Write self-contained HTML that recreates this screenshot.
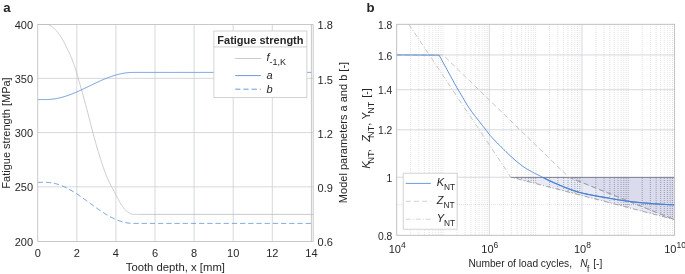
<!DOCTYPE html>
<html><head><meta charset="utf-8"><title>Figure</title>
<style>html,body{margin:0;padding:0;background:#fff;}svg{display:block;will-change:transform;font-family:"Liberation Sans",Arial,Helvetica,sans-serif;}</style>
</head><body>
<svg width="685" height="274" viewBox="0 0 685 274">
<rect x="0" y="0" width="685" height="274" fill="#fff"/>
<line x1="76.80" y1="24.5" x2="76.80" y2="241.5" stroke="#ccced4" stroke-width="0.8"/>
<line x1="115.90" y1="24.5" x2="115.90" y2="241.5" stroke="#ccced4" stroke-width="0.8"/>
<line x1="155.00" y1="24.5" x2="155.00" y2="241.5" stroke="#ccced4" stroke-width="0.8"/>
<line x1="194.10" y1="24.5" x2="194.10" y2="241.5" stroke="#ccced4" stroke-width="0.8"/>
<line x1="233.20" y1="24.5" x2="233.20" y2="241.5" stroke="#ccced4" stroke-width="0.8"/>
<line x1="272.30" y1="24.5" x2="272.30" y2="241.5" stroke="#ccced4" stroke-width="0.8"/>
<line x1="37.7" y1="186.85" x2="313.2" y2="186.85" stroke="#ccced4" stroke-width="0.8"/>
<line x1="37.7" y1="132.60" x2="313.2" y2="132.60" stroke="#ccced4" stroke-width="0.8"/>
<line x1="37.7" y1="78.35" x2="313.2" y2="78.35" stroke="#ccced4" stroke-width="0.8"/>
<path d="M37.70,24.50 L38.04,24.50 L38.38,24.50 L38.73,24.50 L39.07,24.50 L39.41,24.50 L39.75,24.50 L40.09,24.50 L40.44,24.50 L40.78,24.50 L41.12,24.50 L41.46,24.50 L41.81,24.50 L42.15,24.50 L42.49,24.50 L42.83,24.50 L43.17,24.50 L43.52,24.50 L43.86,24.50 L44.20,24.50 L44.54,24.50 L44.88,24.50 L45.23,24.50 L45.57,24.50 L45.91,24.50 L46.25,24.50 L46.60,24.50 L46.94,24.50 L47.28,24.50 L47.62,24.50 L47.96,24.53 L48.31,24.60 L48.65,24.72 L48.99,24.87 L49.33,25.04 L49.67,25.24 L50.02,25.45 L50.36,25.67 L50.70,25.89 L51.04,26.11 L51.39,26.31 L51.73,26.53 L52.07,26.77 L52.41,27.02 L52.75,27.29 L53.10,27.56 L53.44,27.85 L53.78,28.15 L54.12,28.46 L54.46,28.78 L54.81,29.11 L55.15,29.45 L55.49,29.80 L55.83,30.17 L56.18,30.56 L56.52,30.97 L56.86,31.38 L57.20,31.81 L57.54,32.25 L57.89,32.70 L58.23,33.16 L58.57,33.63 L58.91,34.09 L59.25,34.57 L59.60,35.04 L59.94,35.52 L60.28,35.99 L60.62,36.48 L60.97,36.98 L61.31,37.50 L61.65,38.03 L61.99,38.59 L62.33,39.16 L62.68,39.76 L63.02,40.38 L63.36,41.01 L63.70,41.66 L64.04,42.32 L64.39,42.99 L64.73,43.67 L65.07,44.35 L65.41,45.05 L65.76,45.75 L66.10,46.45 L66.44,47.15 L66.78,47.85 L67.12,48.54 L67.47,49.24 L67.81,49.92 L68.15,50.61 L68.49,51.30 L68.83,52.00 L69.18,52.71 L69.52,53.43 L69.86,54.18 L70.20,54.95 L70.55,55.74 L70.89,56.55 L71.23,57.37 L71.57,58.20 L71.91,59.04 L72.26,59.90 L72.60,60.77 L72.94,61.66 L73.28,62.57 L73.62,63.49 L73.97,64.43 L74.31,65.38 L74.65,66.36 L74.99,67.36 L75.34,68.38 L75.68,69.42 L76.02,70.49 L76.36,71.58 L76.70,72.74 L77.05,74.00 L77.39,75.32 L77.73,76.63 L78.07,77.90 L78.41,79.10 L78.76,80.28 L79.10,81.43 L79.44,82.57 L79.78,83.72 L80.13,84.87 L80.47,86.04 L80.81,87.23 L81.15,88.44 L81.49,89.64 L81.84,90.86 L82.18,92.08 L82.52,93.30 L82.86,94.53 L83.20,95.76 L83.55,97.00 L83.89,98.25 L84.23,99.49 L84.57,100.75 L84.92,102.00 L85.26,103.26 L85.60,104.53 L85.94,105.80 L86.28,107.07 L86.63,108.35 L86.97,109.63 L87.31,110.92 L87.65,112.21 L87.99,113.52 L88.34,114.85 L88.68,116.18 L89.02,117.52 L89.36,118.86 L89.71,120.21 L90.05,121.56 L90.39,122.91 L90.73,124.26 L91.07,125.60 L91.42,126.93 L91.76,128.26 L92.10,129.58 L92.44,130.88 L92.78,132.17 L93.13,133.44 L93.47,134.72 L93.81,135.98 L94.15,137.25 L94.50,138.50 L94.84,139.74 L95.18,140.98 L95.52,142.20 L95.86,143.41 L96.21,144.61 L96.55,145.78 L96.89,146.95 L97.23,148.10 L97.57,149.25 L97.92,150.40 L98.26,151.54 L98.60,152.68 L98.94,153.81 L99.29,154.93 L99.63,156.05 L99.97,157.16 L100.31,158.26 L100.65,159.35 L101.00,160.43 L101.34,161.50 L101.68,162.56 L102.02,163.61 L102.36,164.65 L102.71,165.67 L103.05,166.69 L103.39,167.69 L103.73,168.68 L104.08,169.65 L104.42,170.61 L104.76,171.55 L105.10,172.47 L105.44,173.38 L105.79,174.26 L106.13,175.12 L106.47,175.95 L106.81,176.76 L107.15,177.55 L107.50,178.33 L107.84,179.09 L108.18,179.84 L108.52,180.58 L108.87,181.30 L109.21,182.01 L109.55,182.72 L109.89,183.42 L110.23,184.10 L110.58,184.79 L110.92,185.47 L111.26,186.14 L111.60,186.81 L111.94,187.47 L112.29,188.13 L112.63,188.77 L112.97,189.40 L113.31,190.03 L113.66,190.65 L114.00,191.27 L114.34,191.89 L114.68,192.50 L115.02,193.12 L115.37,193.74 L115.71,194.36 L116.05,195.00 L116.39,195.65 L116.73,196.30 L117.08,196.96 L117.42,197.62 L117.76,198.28 L118.10,198.94 L118.45,199.59 L118.79,200.24 L119.13,200.88 L119.47,201.52 L119.81,202.14 L120.16,202.75 L120.50,203.34 L120.84,203.92 L121.18,204.48 L121.52,205.01 L121.87,205.52 L122.21,206.01 L122.55,206.48 L122.89,206.95 L123.24,207.41 L123.58,207.85 L123.92,208.29 L124.26,208.71 L124.60,209.12 L124.95,209.51 L125.29,209.87 L125.63,210.22 L125.97,210.55 L126.31,210.85 L126.66,211.12 L127.00,211.40 L127.34,211.66 L127.68,211.92 L128.03,212.18 L128.37,212.42 L128.71,212.66 L129.05,212.88 L129.39,213.09 L129.74,213.29 L130.08,213.47 L130.42,213.63 L130.76,213.77 L131.10,213.89 L131.45,213.99 L131.79,214.07 L132.13,214.15 L132.47,214.22 L132.82,214.29 L133.16,214.34 L133.50,214.38 L133.84,214.40 L134.18,214.40 L134.53,214.40 L134.87,214.40 L135.21,214.40 L135.55,214.40 L135.89,214.40 L136.24,214.40 L136.58,214.40 L136.92,214.40 L137.26,214.40 L137.61,214.40 L137.95,214.40 L138.29,214.40 L138.63,214.40 L138.97,214.40 L139.32,214.40 L139.66,214.40 L140.00,214.40 L313.20,214.40" fill="none" stroke="#bcbcbc" stroke-width="0.8"/>
<path d="M37.70,99.55 L38.39,99.55 L39.07,99.55 L39.76,99.55 L40.44,99.55 L41.13,99.55 L41.82,99.55 L42.50,99.55 L43.19,99.55 L43.87,99.55 L44.56,99.55 L45.25,99.55 L45.93,99.54 L46.62,99.54 L47.30,99.52 L47.99,99.49 L48.68,99.46 L49.36,99.42 L50.05,99.37 L50.73,99.31 L51.42,99.25 L52.11,99.17 L52.79,99.09 L53.48,99.00 L54.16,98.90 L54.85,98.80 L55.54,98.69 L56.22,98.57 L56.91,98.44 L57.59,98.30 L58.28,98.16 L58.96,98.01 L59.65,97.86 L60.34,97.69 L61.02,97.52 L61.71,97.34 L62.39,97.16 L63.08,96.97 L63.77,96.77 L64.45,96.56 L65.14,96.35 L65.82,96.13 L66.51,95.91 L67.20,95.68 L67.88,95.45 L68.57,95.21 L69.25,94.96 L69.94,94.71 L70.63,94.45 L71.31,94.19 L72.00,93.92 L72.68,93.65 L73.37,93.37 L74.06,93.09 L74.74,92.81 L75.43,92.52 L76.11,92.23 L76.80,91.93 L77.49,91.63 L78.17,91.32 L78.86,91.02 L79.54,90.71 L80.23,90.39 L80.92,90.08 L81.60,89.76 L82.29,89.44 L82.97,89.12 L83.66,88.80 L84.35,88.47 L85.03,88.14 L85.72,87.81 L86.40,87.48 L87.09,87.15 L87.78,86.82 L88.46,86.49 L89.15,86.16 L89.83,85.83 L90.52,85.49 L91.21,85.16 L91.89,84.83 L92.58,84.50 L93.26,84.17 L93.95,83.84 L94.64,83.51 L95.32,83.19 L96.01,82.86 L96.69,82.54 L97.38,82.22 L98.06,81.90 L98.75,81.59 L99.44,81.27 L100.12,80.96 L100.81,80.66 L101.49,80.35 L102.18,80.05 L102.87,79.76 L103.55,79.46 L104.24,79.17 L104.92,78.89 L105.61,78.61 L106.30,78.33 L106.98,78.06 L107.67,77.79 L108.35,77.53 L109.04,77.27 L109.73,77.02 L110.41,76.77 L111.10,76.53 L111.78,76.30 L112.47,76.07 L113.16,75.84 L113.84,75.63 L114.53,75.41 L115.21,75.21 L115.90,75.01 L116.59,74.82 L117.27,74.63 L117.96,74.46 L118.64,74.28 L119.33,74.12 L120.02,73.96 L120.70,73.81 L121.39,73.67 L122.07,73.53 L122.76,73.41 L123.45,73.28 L124.13,73.17 L124.82,73.07 L125.50,72.97 L126.19,72.88 L126.88,72.80 L127.56,72.72 L128.25,72.66 L128.93,72.60 L129.62,72.55 L130.31,72.51 L130.99,72.48 L131.68,72.45 L132.36,72.43 L133.05,72.42 L133.74,72.42 L134.42,72.42 L135.11,72.42 L135.79,72.42 L136.48,72.42 L137.16,72.42 L137.85,72.42 L138.54,72.42 L139.22,72.42 L139.91,72.42 L140.59,72.42 L141.28,72.42 L141.97,72.42 L142.65,72.42 L143.34,72.42 L144.02,72.42 L144.71,72.42 L145.40,72.42 L146.08,72.42 L146.77,72.42 L147.45,72.42 L148.14,72.42 L148.83,72.42 L149.51,72.42 L150.20,72.42 L150.88,72.42 L151.57,72.42 L152.26,72.42 L152.94,72.42 L153.63,72.42 L154.31,72.42 L155.00,72.42 L155.69,72.42 L156.37,72.42 L157.06,72.42 L157.74,72.42 L158.43,72.42 L159.12,72.42 L159.80,72.42 L160.49,72.42 L161.17,72.42 L161.86,72.42 L162.55,72.42 L163.23,72.42 L163.92,72.42 L164.60,72.42 L165.29,72.42 L165.98,72.42 L166.66,72.42 L167.35,72.42 L168.03,72.42 L168.72,72.42 L169.41,72.42 L170.09,72.42 L170.78,72.42 L171.46,72.42 L172.15,72.42 L172.84,72.42 L173.52,72.42 L174.21,72.42 L174.89,72.42 L175.58,72.42 L176.26,72.42 L176.95,72.42 L177.64,72.42 L178.32,72.42 L179.01,72.42 L179.69,72.42 L180.38,72.42 L181.07,72.42 L181.75,72.42 L182.44,72.42 L183.12,72.42 L183.81,72.42 L184.50,72.42 L185.18,72.42 L185.87,72.42 L186.55,72.42 L187.24,72.42 L187.93,72.42 L188.61,72.42 L189.30,72.42 L189.98,72.42 L190.67,72.42 L191.36,72.42 L192.04,72.42 L192.73,72.42 L193.41,72.42 L194.10,72.42 L194.79,72.42 L195.47,72.42 L196.16,72.42 L196.84,72.42 L197.53,72.42 L198.22,72.42 L198.90,72.42 L199.59,72.42 L200.27,72.42 L200.96,72.42 L201.65,72.42 L202.33,72.42 L203.02,72.42 L203.70,72.42 L204.39,72.42 L205.08,72.42 L205.76,72.42 L206.45,72.42 L207.13,72.42 L207.82,72.42 L208.51,72.42 L209.19,72.42 L209.88,72.42 L210.56,72.42 L211.25,72.42 L211.94,72.42 L212.62,72.42 L213.31,72.42 L213.99,72.42 L214.68,72.42 L215.36,72.42 L216.05,72.42 L216.74,72.42 L217.42,72.42 L218.11,72.42 L218.79,72.42 L219.48,72.42 L220.17,72.42 L220.85,72.42 L221.54,72.42 L222.22,72.42 L222.91,72.42 L223.60,72.42 L224.28,72.42 L224.97,72.42 L225.65,72.42 L226.34,72.42 L227.03,72.42 L227.71,72.42 L228.40,72.42 L229.08,72.42 L229.77,72.42 L230.46,72.42 L231.14,72.42 L231.83,72.42 L232.51,72.42 L233.20,72.42 L233.89,72.42 L234.57,72.42 L235.26,72.42 L235.94,72.42 L236.63,72.42 L237.32,72.42 L238.00,72.42 L238.69,72.42 L239.37,72.42 L240.06,72.42 L240.75,72.42 L241.43,72.42 L242.12,72.42 L242.80,72.42 L243.49,72.42 L244.18,72.42 L244.86,72.42 L245.55,72.42 L246.23,72.42 L246.92,72.42 L247.61,72.42 L248.29,72.42 L248.98,72.42 L249.66,72.42 L250.35,72.42 L251.04,72.42 L251.72,72.42 L252.41,72.42 L253.09,72.42 L253.78,72.42 L254.46,72.42 L255.15,72.42 L255.84,72.42 L256.52,72.42 L257.21,72.42 L257.89,72.42 L258.58,72.42 L259.27,72.42 L259.95,72.42 L260.64,72.42 L261.32,72.42 L262.01,72.42 L262.70,72.42 L263.38,72.42 L264.07,72.42 L264.75,72.42 L265.44,72.42 L266.13,72.42 L266.81,72.42 L267.50,72.42 L268.18,72.42 L268.87,72.42 L269.56,72.42 L270.24,72.42 L270.93,72.42 L271.61,72.42 L272.30,72.42 L272.99,72.42 L273.67,72.42 L274.36,72.42 L275.04,72.42 L275.73,72.42 L276.42,72.42 L277.10,72.42 L277.79,72.42 L278.47,72.42 L279.16,72.42 L279.85,72.42 L280.53,72.42 L281.22,72.42 L281.90,72.42 L282.59,72.42 L283.28,72.42 L283.96,72.42 L284.65,72.42 L285.33,72.42 L286.02,72.42 L286.71,72.42 L287.39,72.42 L288.08,72.42 L288.76,72.42 L289.45,72.42 L290.14,72.42 L290.82,72.42 L291.51,72.42 L292.19,72.42 L292.88,72.42 L293.56,72.42 L294.25,72.42 L294.94,72.42 L295.62,72.42 L296.31,72.42 L296.99,72.42 L297.68,72.42 L298.37,72.42 L299.05,72.42 L299.74,72.42 L300.42,72.42 L301.11,72.42 L301.80,72.42 L302.48,72.42 L303.17,72.42 L303.85,72.42 L304.54,72.42 L305.23,72.42 L305.91,72.42 L306.60,72.42 L307.28,72.42 L307.97,72.42 L308.66,72.42 L309.34,72.42 L310.03,72.42 L310.71,72.42 L311.40,72.42" fill="none" stroke="#5b8fd6" stroke-width="0.9"/>
<path d="M37.70,182.37 L38.39,182.37 L39.07,182.37 L39.76,182.37 L40.44,182.37 L41.13,182.37 L41.82,182.37 L42.50,182.37 L43.19,182.37 L43.87,182.37 L44.56,182.37 L45.25,182.37 L45.93,182.37 L46.62,182.38 L47.30,182.41 L47.99,182.45 L48.68,182.50 L49.36,182.56 L50.05,182.64 L50.73,182.72 L51.42,182.82 L52.11,182.93 L52.79,183.06 L53.48,183.19 L54.16,183.34 L54.85,183.50 L55.54,183.67 L56.22,183.85 L56.91,184.04 L57.59,184.25 L58.28,184.46 L58.96,184.69 L59.65,184.93 L60.34,185.17 L61.02,185.43 L61.71,185.70 L62.39,185.98 L63.08,186.27 L63.77,186.57 L64.45,186.88 L65.14,187.20 L65.82,187.53 L66.51,187.87 L67.20,188.22 L67.88,188.57 L68.57,188.94 L69.25,189.31 L69.94,189.69 L70.63,190.08 L71.31,190.47 L72.00,190.88 L72.68,191.29 L73.37,191.71 L74.06,192.13 L74.74,192.56 L75.43,193.00 L76.11,193.45 L76.80,193.89 L77.49,194.35 L78.17,194.81 L78.86,195.27 L79.54,195.74 L80.23,196.22 L80.92,196.69 L81.60,197.17 L82.29,197.66 L82.97,198.15 L83.66,198.64 L84.35,199.13 L85.03,199.63 L85.72,200.12 L86.40,200.62 L87.09,201.12 L87.78,201.62 L88.46,202.13 L89.15,202.63 L89.83,203.13 L90.52,203.63 L91.21,204.14 L91.89,204.64 L92.58,205.14 L93.26,205.64 L93.95,206.13 L94.64,206.63 L95.32,207.12 L96.01,207.61 L96.69,208.10 L97.38,208.59 L98.06,209.07 L98.75,209.54 L99.44,210.02 L100.12,210.49 L100.81,210.95 L101.49,211.41 L102.18,211.87 L102.87,212.32 L103.55,212.76 L104.24,213.20 L104.92,213.63 L105.61,214.05 L106.30,214.47 L106.98,214.88 L107.67,215.29 L108.35,215.69 L109.04,216.08 L109.73,216.46 L110.41,216.83 L111.10,217.19 L111.78,217.55 L112.47,217.90 L113.16,218.24 L113.84,218.57 L114.53,218.89 L115.21,219.20 L115.90,219.50 L116.59,219.79 L117.27,220.07 L117.96,220.34 L118.64,220.60 L119.33,220.85 L120.02,221.08 L120.70,221.31 L121.39,221.53 L122.07,221.73 L122.76,221.93 L123.45,222.11 L124.13,222.28 L124.82,222.44 L125.50,222.59 L126.19,222.72 L126.88,222.85 L127.56,222.96 L128.25,223.06 L128.93,223.14 L129.62,223.22 L130.31,223.28 L130.99,223.33 L131.68,223.37 L132.36,223.40 L133.05,223.41 L133.74,223.42 L134.42,223.42 L135.11,223.42 L135.79,223.42 L136.48,223.42 L137.16,223.42 L137.85,223.42 L138.54,223.42 L139.22,223.42 L139.91,223.42 L140.59,223.42 L141.28,223.42 L141.97,223.42 L142.65,223.42 L143.34,223.42 L144.02,223.42 L144.71,223.42 L145.40,223.42 L146.08,223.42 L146.77,223.42 L147.45,223.42 L148.14,223.42 L148.83,223.42 L149.51,223.42 L150.20,223.42 L150.88,223.42 L151.57,223.42 L152.26,223.42 L152.94,223.42 L153.63,223.42 L154.31,223.42 L155.00,223.42 L155.69,223.42 L156.37,223.42 L157.06,223.42 L157.74,223.42 L158.43,223.42 L159.12,223.42 L159.80,223.42 L160.49,223.42 L161.17,223.42 L161.86,223.42 L162.55,223.42 L163.23,223.42 L163.92,223.42 L164.60,223.42 L165.29,223.42 L165.98,223.42 L166.66,223.42 L167.35,223.42 L168.03,223.42 L168.72,223.42 L169.41,223.42 L170.09,223.42 L170.78,223.42 L171.46,223.42 L172.15,223.42 L172.84,223.42 L173.52,223.42 L174.21,223.42 L174.89,223.42 L175.58,223.42 L176.26,223.42 L176.95,223.42 L177.64,223.42 L178.32,223.42 L179.01,223.42 L179.69,223.42 L180.38,223.42 L181.07,223.42 L181.75,223.42 L182.44,223.42 L183.12,223.42 L183.81,223.42 L184.50,223.42 L185.18,223.42 L185.87,223.42 L186.55,223.42 L187.24,223.42 L187.93,223.42 L188.61,223.42 L189.30,223.42 L189.98,223.42 L190.67,223.42 L191.36,223.42 L192.04,223.42 L192.73,223.42 L193.41,223.42 L194.10,223.42 L194.79,223.42 L195.47,223.42 L196.16,223.42 L196.84,223.42 L197.53,223.42 L198.22,223.42 L198.90,223.42 L199.59,223.42 L200.27,223.42 L200.96,223.42 L201.65,223.42 L202.33,223.42 L203.02,223.42 L203.70,223.42 L204.39,223.42 L205.08,223.42 L205.76,223.42 L206.45,223.42 L207.13,223.42 L207.82,223.42 L208.51,223.42 L209.19,223.42 L209.88,223.42 L210.56,223.42 L211.25,223.42 L211.94,223.42 L212.62,223.42 L213.31,223.42 L213.99,223.42 L214.68,223.42 L215.36,223.42 L216.05,223.42 L216.74,223.42 L217.42,223.42 L218.11,223.42 L218.79,223.42 L219.48,223.42 L220.17,223.42 L220.85,223.42 L221.54,223.42 L222.22,223.42 L222.91,223.42 L223.60,223.42 L224.28,223.42 L224.97,223.42 L225.65,223.42 L226.34,223.42 L227.03,223.42 L227.71,223.42 L228.40,223.42 L229.08,223.42 L229.77,223.42 L230.46,223.42 L231.14,223.42 L231.83,223.42 L232.51,223.42 L233.20,223.42 L233.89,223.42 L234.57,223.42 L235.26,223.42 L235.94,223.42 L236.63,223.42 L237.32,223.42 L238.00,223.42 L238.69,223.42 L239.37,223.42 L240.06,223.42 L240.75,223.42 L241.43,223.42 L242.12,223.42 L242.80,223.42 L243.49,223.42 L244.18,223.42 L244.86,223.42 L245.55,223.42 L246.23,223.42 L246.92,223.42 L247.61,223.42 L248.29,223.42 L248.98,223.42 L249.66,223.42 L250.35,223.42 L251.04,223.42 L251.72,223.42 L252.41,223.42 L253.09,223.42 L253.78,223.42 L254.46,223.42 L255.15,223.42 L255.84,223.42 L256.52,223.42 L257.21,223.42 L257.89,223.42 L258.58,223.42 L259.27,223.42 L259.95,223.42 L260.64,223.42 L261.32,223.42 L262.01,223.42 L262.70,223.42 L263.38,223.42 L264.07,223.42 L264.75,223.42 L265.44,223.42 L266.13,223.42 L266.81,223.42 L267.50,223.42 L268.18,223.42 L268.87,223.42 L269.56,223.42 L270.24,223.42 L270.93,223.42 L271.61,223.42 L272.30,223.42 L272.99,223.42 L273.67,223.42 L274.36,223.42 L275.04,223.42 L275.73,223.42 L276.42,223.42 L277.10,223.42 L277.79,223.42 L278.47,223.42 L279.16,223.42 L279.85,223.42 L280.53,223.42 L281.22,223.42 L281.90,223.42 L282.59,223.42 L283.28,223.42 L283.96,223.42 L284.65,223.42 L285.33,223.42 L286.02,223.42 L286.71,223.42 L287.39,223.42 L288.08,223.42 L288.76,223.42 L289.45,223.42 L290.14,223.42 L290.82,223.42 L291.51,223.42 L292.19,223.42 L292.88,223.42 L293.56,223.42 L294.25,223.42 L294.94,223.42 L295.62,223.42 L296.31,223.42 L296.99,223.42 L297.68,223.42 L298.37,223.42 L299.05,223.42 L299.74,223.42 L300.42,223.42 L301.11,223.42 L301.80,223.42 L302.48,223.42 L303.17,223.42 L303.85,223.42 L304.54,223.42 L305.23,223.42 L305.91,223.42 L306.60,223.42 L307.28,223.42 L307.97,223.42 L308.66,223.42 L309.34,223.42 L310.03,223.42 L310.71,223.42 L311.40,223.42" fill="none" stroke="#5b8fd6" stroke-width="0.9" stroke-dasharray="5.2,3.0"/>
<path d="M37.7,241.5 L37.7,24.5 L313.2,24.5 L313.2,241.5 L37.7,241.5" fill="none" stroke="#bababa" stroke-width="0.8"/>
<line x1="311.4" y1="24.5" x2="311.4" y2="241.5" stroke="#bababa" stroke-width="0.8"/>
<text x="33.00" y="246.00" font-size="11" text-anchor="end" fill="#262626" >200</text>
<text x="33.00" y="191.30" font-size="11" text-anchor="end" fill="#262626" >250</text>
<text x="33.00" y="137.05" font-size="11" text-anchor="end" fill="#262626" >300</text>
<text x="33.00" y="82.80" font-size="11" text-anchor="end" fill="#262626" >350</text>
<text x="33.00" y="29.00" font-size="11" text-anchor="end" fill="#262626" >400</text>
<text x="37.70" y="257.20" font-size="11" text-anchor="middle" fill="#262626" >0</text>
<text x="76.80" y="257.20" font-size="11" text-anchor="middle" fill="#262626" >2</text>
<text x="115.90" y="257.20" font-size="11" text-anchor="middle" fill="#262626" >4</text>
<text x="155.00" y="257.20" font-size="11" text-anchor="middle" fill="#262626" >6</text>
<text x="194.10" y="257.20" font-size="11" text-anchor="middle" fill="#262626" >8</text>
<text x="233.20" y="257.20" font-size="11" text-anchor="middle" fill="#262626" >10</text>
<text x="272.30" y="257.20" font-size="11" text-anchor="middle" fill="#262626" >12</text>
<text x="311.40" y="257.20" font-size="11" text-anchor="middle" fill="#262626" >14</text>
<text x="317.60" y="246.40" font-size="11" text-anchor="start" fill="#262626" >0.6</text>
<text x="317.60" y="192.15" font-size="11" text-anchor="start" fill="#262626" >0.9</text>
<text x="317.60" y="137.90" font-size="11" text-anchor="start" fill="#262626" >1.2</text>
<text x="317.60" y="83.65" font-size="11" text-anchor="start" fill="#262626" >1.5</text>
<text x="317.60" y="29.40" font-size="11" text-anchor="start" fill="#262626" >1.8</text>
<text x="175.35" y="270.90" font-size="11.3" text-anchor="middle" fill="#262626" >Tooth depth, x [mm]</text>
<text transform="translate(9.6,133.0) rotate(-90)" font-size="11" text-anchor="middle" fill="#262626">Fatigue strength [MPa]</text>
<text transform="translate(346.5,132.5) rotate(-90)" font-size="11" text-anchor="middle" fill="#262626">Model parameters a and b [-]</text>
<text x="3.30" y="12.30" font-size="13.2" text-anchor="start" fill="#262626" font-weight="bold">a</text>
<text x="366.60" y="12.30" font-size="13.2" text-anchor="start" fill="#262626" font-weight="bold">b</text>
<rect x="213.9" y="31" width="93" height="66.6" fill="#fff" stroke="#c8c8c8" stroke-width="0.8"/>
<line x1="213.9" y1="46.9" x2="306.9" y2="46.9" stroke="#c8c8c8" stroke-width="0.8"/>
<text x="260.40" y="43.70" font-size="11" text-anchor="middle" fill="#262626" font-weight="bold">Fatigue strength</text>
<line x1="235.20000000000002" y1="58.5" x2="260.9" y2="58.5" stroke="#bcbcbc" stroke-width="0.8"/>
<line x1="235.20000000000002" y1="75.6" x2="260.9" y2="75.6" stroke="#5b8fd6" stroke-width="0.9"/>
<line x1="235.20000000000002" y1="89.2" x2="260.9" y2="89.2" stroke="#5b8fd6" stroke-width="0.9" stroke-dasharray="5.2,3.0"/>
<text x="266.4" y="61" font-size="11" fill="#262626"><tspan font-style="italic">f</tspan><tspan dy="4.2" font-size="9">-1,K</tspan></text>
<text x="266.40" y="79.40" font-size="11" text-anchor="start" fill="#262626" font-style="italic">a</text>
<text x="266.40" y="93.40" font-size="11" text-anchor="start" fill="#262626" font-style="italic">b</text>
<path d="M510.9,177.24 L674.6,177.24 L674.6,219.70 Z" fill="#e8eaf5"/>
<path d="M568.8,177.24 L674.6,177.24 L674.6,219.70 Z" fill="#dadcee"/>
<clipPath id="cpf"><path d="M510.9,177.24 L674.6,177.24 L674.6,219.70 Z"/></clipPath>
<path d="M410.64,24V235.3 M418.80,24V235.3 M424.59,24V235.3 M429.07,24V235.3 M432.74,24V235.3 M435.84,24V235.3 M438.53,24V235.3 M440.90,24V235.3 M443.02,24V235.3 M456.96,24V235.3 M465.12,24V235.3 M470.90,24V235.3 M475.39,24V235.3 M479.06,24V235.3 M482.16,24V235.3 M484.84,24V235.3 M487.21,24V235.3 M503.28,24V235.3 M511.43,24V235.3 M517.22,24V235.3 M521.71,24V235.3 M525.37,24V235.3 M528.48,24V235.3 M531.16,24V235.3 M533.53,24V235.3 M535.65,24V235.3 M549.59,24V235.3 M557.75,24V235.3 M563.54,24V235.3 M568.02,24V235.3 M571.69,24V235.3 M574.79,24V235.3 M577.48,24V235.3 M579.85,24V235.3 M595.91,24V235.3 M604.07,24V235.3 M609.85,24V235.3 M614.34,24V235.3 M618.01,24V235.3 M621.11,24V235.3 M623.79,24V235.3 M626.16,24V235.3 M628.28,24V235.3 M642.23,24V235.3 M650.38,24V235.3 M656.17,24V235.3 M660.66,24V235.3 M664.32,24V235.3 M667.43,24V235.3 M670.11,24V235.3 M672.48,24V235.3" fill="none" stroke="#262626" stroke-opacity="0.17" stroke-width="0.75" stroke-dasharray="1,1"/>
<path d="M397,204.65H674.6" fill="none" stroke="#262626" stroke-opacity="0.17" stroke-width="0.75" stroke-dasharray="1,1"/>
<g clip-path="url(#cpf)"><path d="M410.64,24V235.3 M418.80,24V235.3 M424.59,24V235.3 M429.07,24V235.3 M432.74,24V235.3 M435.84,24V235.3 M438.53,24V235.3 M440.90,24V235.3 M443.02,24V235.3 M456.96,24V235.3 M465.12,24V235.3 M470.90,24V235.3 M475.39,24V235.3 M479.06,24V235.3 M482.16,24V235.3 M484.84,24V235.3 M487.21,24V235.3 M503.28,24V235.3 M511.43,24V235.3 M517.22,24V235.3 M521.71,24V235.3 M525.37,24V235.3 M528.48,24V235.3 M531.16,24V235.3 M533.53,24V235.3 M535.65,24V235.3 M549.59,24V235.3 M557.75,24V235.3 M563.54,24V235.3 M568.02,24V235.3 M571.69,24V235.3 M574.79,24V235.3 M577.48,24V235.3 M579.85,24V235.3 M595.91,24V235.3 M604.07,24V235.3 M609.85,24V235.3 M614.34,24V235.3 M618.01,24V235.3 M621.11,24V235.3 M623.79,24V235.3 M626.16,24V235.3 M628.28,24V235.3 M642.23,24V235.3 M650.38,24V235.3 M656.17,24V235.3 M660.66,24V235.3 M664.32,24V235.3 M667.43,24V235.3 M670.11,24V235.3 M672.48,24V235.3" fill="none" stroke="#2a2a50" stroke-opacity="0.3" stroke-width="0.85" stroke-dasharray="1,1"/><path d="M397,204.65H674.6" fill="none" stroke="#2a2a50" stroke-opacity="0.3" stroke-width="0.8" stroke-dasharray="1,1"/></g>
<line x1="489.33" y1="24.3" x2="489.33" y2="235.3" stroke="#ccced4" stroke-width="0.8"/>
<line x1="581.97" y1="24.3" x2="581.97" y2="235.3" stroke="#ccced4" stroke-width="0.8"/>
<line x1="396.7" y1="177.24" x2="674.6" y2="177.24" stroke="#ccced4" stroke-width="0.8"/>
<line x1="396.7" y1="129.80" x2="674.6" y2="129.80" stroke="#ccced4" stroke-width="0.8"/>
<line x1="396.7" y1="89.69" x2="674.6" y2="89.69" stroke="#ccced4" stroke-width="0.8"/>
<line x1="396.7" y1="54.95" x2="674.6" y2="54.95" stroke="#ccced4" stroke-width="0.8"/>
<line x1="510.9" y1="177.45" x2="674.6" y2="177.45" stroke="#7c7c8c" stroke-width="0.9"/>
<path d="M396.7,54.95 L443.02,54.95 L568.8,177.24 L674.6,219.70" fill="none" stroke="#b8b8b8" stroke-width="0.8" stroke-dasharray="5.2,3.0"/>
<path d="M408.8,24.3 L510.9,177.24 L674.6,219.70" fill="none" stroke="#b8b8b8" stroke-width="0.8" stroke-dasharray="5,2,1,2"/>
<g clip-path="url(#cpf)"><path d="M396.7,54.95 L443.02,54.95 L568.8,177.24 L674.6,219.70" fill="none" stroke="#90909c" stroke-width="0.8" stroke-dasharray="5.2,3.0"/><path d="M408.8,24.3 L510.9,177.24 L674.6,219.70" fill="none" stroke="#9a9aa6" stroke-width="1.0" stroke-dasharray="5,2,1,2"/></g>
<path d="M396.7,54.95 L439.00,55.10 L439.99,56.86 L440.97,58.63 L441.96,60.41 L442.94,62.20 L443.93,63.99 L444.91,65.79 L445.90,67.60 L446.89,69.41 L447.87,71.23 L448.86,73.07 L449.84,74.90 L450.83,76.70 L451.82,78.49 L452.80,80.27 L453.79,82.05 L454.77,83.81 L455.76,85.56 L456.74,87.30 L457.73,89.03 L458.72,90.74 L459.70,92.43 L460.69,94.10 L461.67,95.76 L462.66,97.42 L463.64,99.07 L464.63,100.73 L465.62,102.42 L466.60,104.09 L467.59,105.67 L468.57,107.16 L469.56,108.60 L470.54,110.01 L471.53,111.38 L472.52,112.73 L473.50,114.05 L474.49,115.35 L475.47,116.63 L476.46,117.90 L477.45,119.15 L478.43,120.40 L479.42,121.64 L480.40,122.88 L481.39,124.12 L482.37,125.36 L483.36,126.62 L484.35,127.88 L485.33,129.16 L486.32,130.46 L487.30,131.79 L488.29,133.13 L489.27,134.39 L490.26,135.56 L491.25,136.69 L492.23,137.79 L493.22,138.87 L494.20,139.92 L495.19,140.95 L496.17,141.97 L497.16,142.96 L498.15,143.95 L499.13,144.92 L500.12,145.89 L501.10,146.86 L502.09,147.82 L503.08,148.78 L504.06,149.75 L505.05,150.72 L506.03,151.69 L507.02,152.65 L508.00,153.61 L508.99,154.56 L509.98,155.50 L510.96,156.42 L511.95,157.34 L512.93,158.24 L513.92,159.12 L514.90,159.98 L515.89,160.82 L516.88,161.65 L517.86,162.47 L518.85,163.27 L519.83,164.06 L520.82,164.83 L521.81,165.58 L522.79,166.30 L523.78,166.99 L524.76,167.64 L525.75,168.27 L526.73,168.88 L527.72,169.47 L528.71,170.04 L529.69,170.61 L530.68,171.15 L531.66,171.69 L532.65,172.22 L533.63,172.74 L534.62,173.25 L535.61,173.75 L536.59,174.25 L537.58,174.74 L538.56,175.24 L539.55,175.73 L540.53,176.22 L541.52,176.71 L542.51,177.20 L543.49,177.70 L544.48,178.20 L545.46,178.69 L546.45,179.19 L547.44,179.68 L548.42,180.16 L549.41,180.64 L550.39,181.11 L551.38,181.58 L552.36,182.04 L553.35,182.48 L554.34,182.91 L555.32,183.34 L556.31,183.76 L557.29,184.18 L558.28,184.59 L559.26,185.01 L560.25,185.43 L561.24,185.84 L562.22,186.25 L563.21,186.65 L564.19,187.06 L565.18,187.45 L566.16,187.85 L567.15,188.23 L568.14,188.61 L569.12,188.99 L570.11,189.35 L571.09,189.71 L572.08,190.06 L573.07,190.40 L574.05,190.74 L575.04,191.06 L576.02,191.37 L577.01,191.67 L577.99,191.95 L578.98,192.23 L579.97,192.49 L580.95,192.74 L581.94,192.99 L582.92,193.23 L583.91,193.46 L584.89,193.69 L585.88,193.91 L586.87,194.13 L587.85,194.34 L588.84,194.54 L589.82,194.75 L590.81,194.94 L591.79,195.14 L592.78,195.33 L593.77,195.52 L594.75,195.70 L595.74,195.88 L596.72,196.06 L597.71,196.24 L598.70,196.41 L599.68,196.59 L600.67,196.76 L601.65,196.93 L602.64,197.10 L603.62,197.27 L604.61,197.44 L605.60,197.60 L606.58,197.77 L607.57,197.94 L608.55,198.11 L609.54,198.28 L610.52,198.46 L611.51,198.63 L612.50,198.80 L613.48,198.97 L614.47,199.14 L615.45,199.31 L616.44,199.48 L617.43,199.64 L618.41,199.80 L619.40,199.96 L620.38,200.12 L621.37,200.27 L622.35,200.42 L623.34,200.56 L624.33,200.71 L625.31,200.84 L626.30,200.98 L627.28,201.11 L628.27,201.25 L629.25,201.38 L630.24,201.51 L631.23,201.64 L632.21,201.76 L633.20,201.88 L634.18,202.00 L635.17,202.11 L636.15,202.22 L637.14,202.33 L638.13,202.43 L639.11,202.52 L640.10,202.61 L641.08,202.69 L642.07,202.78 L643.06,202.86 L644.04,202.95 L645.03,203.03 L646.01,203.11 L647.00,203.19 L647.98,203.27 L648.97,203.35 L649.96,203.43 L650.94,203.51 L651.93,203.58 L652.91,203.66 L653.90,203.73 L654.88,203.80 L655.87,203.87 L656.86,203.94 L657.84,204.01 L658.83,204.07 L659.81,204.13 L660.80,204.20 L661.78,204.25 L662.77,204.31 L663.76,204.37 L664.74,204.42 L665.73,204.47 L666.71,204.52 L667.70,204.56 L668.69,204.60 L669.67,204.64 L670.66,204.68 L671.64,204.71 L672.63,204.75 L673.61,204.77 L674.60,204.80" fill="none" stroke="#5b8fd6" stroke-width="1"/>
<g clip-path="url(#cpf)"><path d="M439.00,55.10 L439.99,56.86 L440.97,58.63 L441.96,60.41 L442.94,62.20 L443.93,63.99 L444.91,65.79 L445.90,67.60 L446.89,69.41 L447.87,71.23 L448.86,73.07 L449.84,74.90 L450.83,76.70 L451.82,78.49 L452.80,80.27 L453.79,82.05 L454.77,83.81 L455.76,85.56 L456.74,87.30 L457.73,89.03 L458.72,90.74 L459.70,92.43 L460.69,94.10 L461.67,95.76 L462.66,97.42 L463.64,99.07 L464.63,100.73 L465.62,102.42 L466.60,104.09 L467.59,105.67 L468.57,107.16 L469.56,108.60 L470.54,110.01 L471.53,111.38 L472.52,112.73 L473.50,114.05 L474.49,115.35 L475.47,116.63 L476.46,117.90 L477.45,119.15 L478.43,120.40 L479.42,121.64 L480.40,122.88 L481.39,124.12 L482.37,125.36 L483.36,126.62 L484.35,127.88 L485.33,129.16 L486.32,130.46 L487.30,131.79 L488.29,133.13 L489.27,134.39 L490.26,135.56 L491.25,136.69 L492.23,137.79 L493.22,138.87 L494.20,139.92 L495.19,140.95 L496.17,141.97 L497.16,142.96 L498.15,143.95 L499.13,144.92 L500.12,145.89 L501.10,146.86 L502.09,147.82 L503.08,148.78 L504.06,149.75 L505.05,150.72 L506.03,151.69 L507.02,152.65 L508.00,153.61 L508.99,154.56 L509.98,155.50 L510.96,156.42 L511.95,157.34 L512.93,158.24 L513.92,159.12 L514.90,159.98 L515.89,160.82 L516.88,161.65 L517.86,162.47 L518.85,163.27 L519.83,164.06 L520.82,164.83 L521.81,165.58 L522.79,166.30 L523.78,166.99 L524.76,167.64 L525.75,168.27 L526.73,168.88 L527.72,169.47 L528.71,170.04 L529.69,170.61 L530.68,171.15 L531.66,171.69 L532.65,172.22 L533.63,172.74 L534.62,173.25 L535.61,173.75 L536.59,174.25 L537.58,174.74 L538.56,175.24 L539.55,175.73 L540.53,176.22 L541.52,176.71 L542.51,177.20 L543.49,177.70 L544.48,178.20 L545.46,178.69 L546.45,179.19 L547.44,179.68 L548.42,180.16 L549.41,180.64 L550.39,181.11 L551.38,181.58 L552.36,182.04 L553.35,182.48 L554.34,182.91 L555.32,183.34 L556.31,183.76 L557.29,184.18 L558.28,184.59 L559.26,185.01 L560.25,185.43 L561.24,185.84 L562.22,186.25 L563.21,186.65 L564.19,187.06 L565.18,187.45 L566.16,187.85 L567.15,188.23 L568.14,188.61 L569.12,188.99 L570.11,189.35 L571.09,189.71 L572.08,190.06 L573.07,190.40 L574.05,190.74 L575.04,191.06 L576.02,191.37 L577.01,191.67 L577.99,191.95 L578.98,192.23 L579.97,192.49 L580.95,192.74 L581.94,192.99 L582.92,193.23 L583.91,193.46 L584.89,193.69 L585.88,193.91 L586.87,194.13 L587.85,194.34 L588.84,194.54 L589.82,194.75 L590.81,194.94 L591.79,195.14 L592.78,195.33 L593.77,195.52 L594.75,195.70 L595.74,195.88 L596.72,196.06 L597.71,196.24 L598.70,196.41 L599.68,196.59 L600.67,196.76 L601.65,196.93 L602.64,197.10 L603.62,197.27 L604.61,197.44 L605.60,197.60 L606.58,197.77 L607.57,197.94 L608.55,198.11 L609.54,198.28 L610.52,198.46 L611.51,198.63 L612.50,198.80 L613.48,198.97 L614.47,199.14 L615.45,199.31 L616.44,199.48 L617.43,199.64 L618.41,199.80 L619.40,199.96 L620.38,200.12 L621.37,200.27 L622.35,200.42 L623.34,200.56 L624.33,200.71 L625.31,200.84 L626.30,200.98 L627.28,201.11 L628.27,201.25 L629.25,201.38 L630.24,201.51 L631.23,201.64 L632.21,201.76 L633.20,201.88 L634.18,202.00 L635.17,202.11 L636.15,202.22 L637.14,202.33 L638.13,202.43 L639.11,202.52 L640.10,202.61 L641.08,202.69 L642.07,202.78 L643.06,202.86 L644.04,202.95 L645.03,203.03 L646.01,203.11 L647.00,203.19 L647.98,203.27 L648.97,203.35 L649.96,203.43 L650.94,203.51 L651.93,203.58 L652.91,203.66 L653.90,203.73 L654.88,203.80 L655.87,203.87 L656.86,203.94 L657.84,204.01 L658.83,204.07 L659.81,204.13 L660.80,204.20 L661.78,204.25 L662.77,204.31 L663.76,204.37 L664.74,204.42 L665.73,204.47 L666.71,204.52 L667.70,204.56 L668.69,204.60 L669.67,204.64 L670.66,204.68 L671.64,204.71 L672.63,204.75 L673.61,204.77 L674.60,204.80" fill="none" stroke="#4a80d0" stroke-width="1.15"/></g>
<rect x="396.7" y="24.3" width="277.90" height="211.00" fill="none" stroke="#bababa" stroke-width="0.9"/>
<text x="392.30" y="239.90" font-size="10.3" text-anchor="end" fill="#262626" >0.8</text>
<text x="392.30" y="181.84" font-size="10.3" text-anchor="end" fill="#262626" >1</text>
<text x="392.30" y="134.40" font-size="10.3" text-anchor="end" fill="#262626" >1.2</text>
<text x="392.30" y="94.29" font-size="10.3" text-anchor="end" fill="#262626" >1.4</text>
<text x="392.30" y="59.55" font-size="10.3" text-anchor="end" fill="#262626" >1.6</text>
<text x="392.30" y="28.90" font-size="10.3" text-anchor="end" fill="#262626" >1.8</text>
<text x="397.20" y="253.10" font-size="11" text-anchor="middle" fill="#262626">10<tspan dy="-5.0" font-size="8.5">4</tspan></text>
<text x="489.83" y="253.10" font-size="11" text-anchor="middle" fill="#262626">10<tspan dy="-5.0" font-size="8.5">6</tspan></text>
<text x="582.47" y="253.10" font-size="11" text-anchor="middle" fill="#262626">10<tspan dy="-5.0" font-size="8.5">8</tspan></text>
<text x="675.10" y="253.10" font-size="11" text-anchor="middle" fill="#262626">10<tspan dy="-5.0" font-size="8.5">10</tspan></text>
<text y="266.7" font-size="10.2" fill="#262626"><tspan x="468.4">Number of load cycles,</tspan><tspan x="580.2" font-style="italic">N</tspan><tspan x="586.9" dy="4.8" font-size="8.3">f</tspan><tspan x="593.2" dy="-4.8">[-]</tspan></text>
<g transform="translate(369.6,168.4) rotate(-90)"><text font-size="10.7" fill="#262626" y="0"><tspan x="-0.2" font-style="italic">K</tspan><tspan x="4.8" dy="4.8" font-size="9.1">NT</tspan><tspan x="16.2" dy="-4.8">,</tspan><tspan x="26.7" font-style="italic">Z</tspan><tspan x="30.5" dy="4.8" font-size="9.1">NT</tspan><tspan x="42.6" dy="-4.8">,</tspan><tspan x="49.2">Y</tspan><tspan x="54.7" dy="4.8" font-size="9.1">NT</tspan><tspan x="70.6" dy="-4.8">[-]</tspan></text></g>
<rect x="403.2" y="173.2" width="53.9" height="56" fill="#fff" stroke="#c8c8c8" stroke-width="0.8"/>
<line x1="405.7" y1="183.4" x2="430.8" y2="183.4" stroke="#5b8fd6" stroke-width="0.9"/>
<line x1="405.7" y1="201.3" x2="430.8" y2="201.3" stroke="#c6c6c6" stroke-width="0.8" stroke-dasharray="5.2,3.0"/>
<line x1="405.7" y1="219.2" x2="430.8" y2="219.2" stroke="#c6c6c6" stroke-width="0.8" stroke-dasharray="5,2,1,2"/>
<text x="436.7" y="186" font-size="11" fill="#262626"><tspan font-style="italic">K</tspan><tspan dy="3.8" font-size="8.3">NT</tspan></text>
<text x="436.7" y="203.9" font-size="11" fill="#262626"><tspan font-style="italic">Z</tspan><tspan dy="3.8" font-size="8.3">NT</tspan></text>
<text x="436.7" y="221.8" font-size="11" fill="#262626"><tspan font-style="italic">Y</tspan><tspan dy="3.8" font-size="8.3">NT</tspan></text>
</svg>
</body></html>
